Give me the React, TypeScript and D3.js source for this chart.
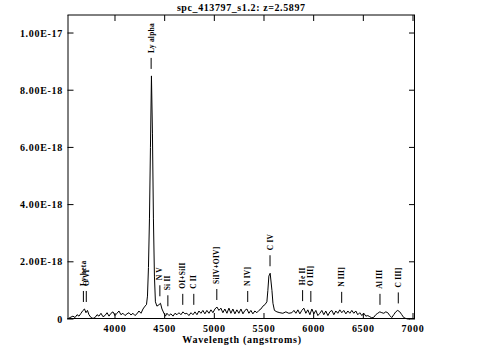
import React from "react";
import * as d3 from "d3";

const title = "spc_413797_s1.2: z=2.5897";
const redshift = 2.5897;

const wavelengths = [3522,3547,3577,3598,3618,3638,3658,3678,3693,3708,3723,3738,3759,3779,3799,3819,3839,3859,3879,3899,3920,3940,3960,3980,4000,4020,4040,4060,4080,4101,4121,4141,4161,4181,4201,4221,4241,4262,4282,4302,4317,4327,4337,4347,4357,4367,4377,4387,4397,4407,4422,4443,4458,4473,4493,4508,4523,4543,4563,4584,4604,4624,4644,4664,4684,4704,4724,4744,4765,4785,4805,4825,4845,4865,4885,4905,4925,4946,4966,4986,5006,5026,5046,5066,5086,5106,5127,5147,5167,5187,5207,5227,5247,5268,5288,5308,5328,5348,5368,5388,5408,5428,5449,5469,5489,5509,5529,5539,5549,5562,5580,5590,5605,5630,5660,5690,5720,5750,5781,5801,5821,5841,5861,5881,5901,5921,5941,5962,5982,6002,6022,6042,6062,6082,6102,6122,6143,6163,6183,6203,6223,6243,6263,6283,6303,6324,6344,6364,6384,6404,6424,6444,6464,6485,6505,6525,6545,6565,6585,6605,6625,6645,6666,6686,6706,6726,6746,6766,6786,6806,6826,6846,6867,6887,6907,6927,6947,6967];

// flux in units of 1e-18
const fluxes = [0.0,0.05,0.1,0.05,0.15,0.1,0.2,0.3,0.35,0.22,0.3,0.15,0.05,0.02,0.05,0.15,0.1,0.2,0.08,0.12,0.22,0.1,0.2,0.25,0.12,0.2,0.28,0.15,0.2,0.12,0.18,0.22,0.14,0.2,0.12,0.18,0.28,0.2,0.35,0.45,0.5,0.8,1.8,3.5,6.0,8.5,6.5,3.5,1.5,0.6,0.45,0.5,0.55,0.35,0.2,0.1,0.2,0.12,0.18,0.1,0.2,0.15,0.22,0.15,0.25,0.18,0.2,0.12,0.22,0.15,0.25,0.15,0.28,0.2,0.3,0.18,0.3,0.2,0.32,0.22,0.35,0.42,0.3,0.38,0.22,0.35,0.2,0.38,0.2,0.35,0.18,0.32,0.2,0.35,0.18,0.3,0.35,0.2,0.3,0.18,0.28,0.22,0.3,0.35,0.45,0.5,0.6,1.0,1.5,1.6,1.0,0.55,0.3,0.25,0.22,0.2,0.25,0.2,0.22,0.3,0.2,0.32,0.18,0.3,0.38,0.2,0.32,0.15,0.35,0.18,0.3,0.12,0.2,0.3,0.15,0.28,0.12,0.25,0.3,0.15,0.28,0.2,0.32,0.22,0.3,0.18,0.28,0.2,0.3,0.2,0.28,0.15,0.22,0.12,0.2,0.1,0.12,0.08,0.04,0.06,0.15,0.2,0.25,0.22,0.2,0.25,0.22,0.12,0.05,0.15,0.25,0.3,0.25,0.15,0.05,0.02,0.0,0.0];

const lineNames = ["Ly beta","O VI","Ly alpha","N V","Si II","OI+SiII","C II","SiIV+OIV]","N IV]","C IV","He II","O III]","N III]","Al III","C III]"];
const lineRest = [1025.72,1033.82,1215.67,1240.14,1262.59,1304.35,1335.30,1399.8,1486.5,1549.06,1640.42,1663.48,1750.0,1857.4,1908.73];

const xTicks = [4000,4500,5000,5500,6000,6500,7000];
const yTicks = [0,2,4,6,8,10];
const xTitle = "Wavelength (angstroms)";

const W = 483, H = 358;
const left = 67.5, right = 415, top = 15, bottom = 319;

export default function App() {
  const x = d3.scaleLinear().domain([3522, 7020]).range([left, right]);
  const y = d3.scaleLinear().domain([0, 10.63]).range([bottom, top]);
  const pts = wavelengths.map((w, i) => [w, fluxes[i]] as [number, number]);
  const line = d3.line<[number, number]>().x(d => x(d[0])).y(d => y(d[1]));
  const fmt = (v: number) => v === 0 ? "0" : d3.format(".2e")(v * 1e-18).toUpperCase().replace(/E([+-])(\d)$/, "E$10$2");
  const font = "'Liberation Serif', serif";

  const labels = lineNames.map((name, i) => {
    const obs = lineRest[i] * (1 + redshift);
    let m = 0;
    pts.forEach(p => { if (Math.abs(p[0] - obs) <= 25 && p[1] > m) m = p[1]; });
    const yb = y(m) - 7;
    return { name, xp: x(obs), yb, yt: yb - 11 };
  });

  return (
    <svg width={W} height={H} style={{ position: "absolute", left: 0, top: 0, background: "#fff" }}>
      <rect x={0} y={0} width={W} height={H} fill="#fff" />
      <text x={(left + right) / 2} y={7} textAnchor="middle" dominantBaseline="central" fontFamily={font} fontWeight="bold" fontSize={10} letterSpacing={0.6}>{title}</text>
      <path d={line(pts) || ""} fill="none" stroke="#000" strokeWidth={1} />
      <line x1={68} x2={68} y1={top} y2={bottom} stroke="#000" />
      <line x1={left} x2={right} y1={15} y2={15} stroke="#000" />
      <line x1={414.5} x2={414.5} y1={top} y2={bottom} stroke="#000" />
      <line x1={left} x2={right} y1={318.5} y2={318.5} stroke="#000" />
      {yTicks.map(t => (
        <g key={"y" + t}>
          <line x1={left} x2={left + 6} y1={y(t)} y2={y(t)} stroke="#000" />
          <line x1={right - 6} x2={right} y1={y(t)} y2={y(t)} stroke="#000" />
          <text x={63} y={y(t)} textAnchor="end" dominantBaseline="central" fontFamily={font} fontWeight="bold" fontSize={10} letterSpacing={0.7}>{fmt(t)}</text>
        </g>
      ))}
      {xTicks.map(t => (
        <g key={"x" + t}>
          <line x1={x(t)} x2={x(t)} y1={top} y2={top + 6} stroke="#000" />
          <line x1={x(t)} x2={x(t)} y1={bottom} y2={bottom - 6} stroke="#000" />
          <text x={x(t)} y={328} textAnchor="middle" dominantBaseline="central" fontFamily={font} fontWeight="bold" fontSize={10} letterSpacing={0.7}>{t}</text>
        </g>
      ))}
      <text x={242} y={339} textAnchor="middle" dominantBaseline="central" fontFamily={font} fontWeight="bold" fontSize={10} letterSpacing={0.7}>{xTitle}</text>
      {labels.map(l => (
        <g key={l.name}>
          <line x1={l.xp} x2={l.xp} y1={l.yb} y2={l.yt} stroke="#000" />
          <text transform={`translate(${l.xp},${l.yt - 5}) rotate(-90)`} dominantBaseline="central" fontFamily={font} fontWeight="bold" fontSize={7.5} letterSpacing={0.2}>{l.name}</text>
        </g>
      ))}
    </svg>
  );
}
